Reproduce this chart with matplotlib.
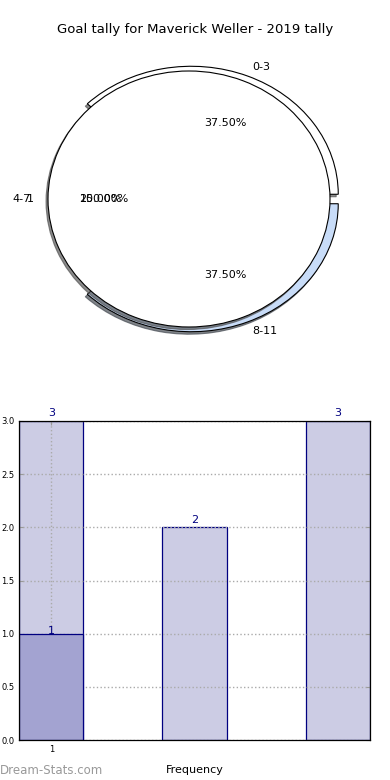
import matplotlib
matplotlib.use('Agg')
import matplotlib.pyplot as plt
from matplotlib.patches import Shadow
from matplotlib.transforms import Affine2D

# pie data
pie_labels = ['0-3', '4-7', '8-11']
pie_values = [3, 2, 3]
pie_colors = ['white', 'white', '#c8dcf8']
pie_explode = [0.04, 0.0, 0.04]
total_label = ['1']
total_value = [1]

# bar data
bar_x = [1, 2, 3]
bar_heights = [3, 2, 3]
overlay_x = [1]
overlay_heights = [1]
xtick_pos = [1]
xtick_labels = ['1']
ytick_vals = [0.0, 0.5, 1.0, 1.5, 2.0, 2.5, 3.0]

W, H = 390, 780
fig = plt.figure(figsize=(W / 100, H / 100), dpi=100)

fig.text(0.5, 1 - 30 / H, 'Goal tally for Maverick Weller - 2019 tally',
         ha='center', va='center', fontsize=9.5)

# --- pie ---
ax1 = fig.add_axes([0, 1 - 360 / H, 1, 320 / H])
wp = dict(edgecolor='black', linewidth=0.8)
shad = dict(ox=-0.01, oy=-0.014, alpha=0.65)
n0 = len(ax1.patches)
wedges, _, _ = ax1.pie(pie_values, labels=pie_labels, colors=pie_colors,
                       explode=pie_explode, autopct='%.2f%%', startangle=0,
                       shadow=shad, wedgeprops=wp, labeldistance=1.08,
                       textprops=dict(fontsize=8))
n1 = len(ax1.patches)
for p in ax1.patches[n0:n1]:
    if isinstance(p, Shadow):
        p.set_zorder(0.5)
        if p.patch is wedges[1]:
            p.set_visible(False)
# the middle wedge sits under the big disc
wedges[1].set_radius(0.9)

_, big_texts, big_auto = ax1.pie(total_value, labels=total_label, colors=['white'],
                                 autopct='%.2f%%', startangle=0, shadow=shad,
                                 wedgeprops=wp, textprops=dict(fontsize=8))
# big disc is a bit narrower than the exploded wedges
squeeze = Affine2D().scale(141 / 147, 1.0) + ax1.transData
for p in ax1.patches[n1:]:
    p.set_transform(squeeze)
    p.set_zorder(1.5 if isinstance(p, Shadow) else 2)
for t in list(big_texts) + list(big_auto):
    t.set_transform(squeeze)

ax1.set_aspect('auto')
ax1.set_xlim(-189 / 147, (W - 189) / 147)
ax1.set_ylim(-(360 - 199) / 128, (199 - 40) / 128)
ax1.axis('off')

# --- bars ---
ax2 = fig.add_axes([19 / W, 1 - 740 / H, 351 / W, 319 / H])
light = ax2.bar(bar_x, bar_heights, width=0.45, color='#ccccE4',
                edgecolor='navy', linewidth=0.9, zorder=2)
dark = ax2.bar(overlay_x, overlay_heights, width=0.45, color='#a3a3d1',
               edgecolor='navy', linewidth=0.9, zorder=3)
ax2.bar_label(light, color='navy', fontsize=8, padding=2)
ax2.bar_label(dark, color='navy', fontsize=8, padding=-2)
ax2.set_xlim(1 - 0.225, 3 + 0.225)
ax2.set_ylim(0, 3)
ax2.set_xticks(xtick_pos)
ax2.set_xticklabels(xtick_labels)
ax2.set_yticks(ytick_vals)
ax2.set_yticklabels([f'{v:.1f}' for v in ytick_vals])
ax2.tick_params(labelsize=6, length=3, color='#999999', direction='in',
                right=True, top=True)
ax2.grid(True, linestyle=':', color='#aaaaaa', linewidth=1.0, zorder=3.5)
ax2.set_axisbelow(False)
for s in ax2.spines.values():
    s.set_color('black')
    s.set_linewidth(0.9)
    s.set_zorder(5)
ax2.set_xlabel('Frequency', fontsize=8, labelpad=8)

fig.text(0.0, 1 - 770 / H, 'Dream-Stats.com', ha='left', va='center',
         fontsize=8.5, color='#999999')

fig.savefig('out.png', dpi=100)
